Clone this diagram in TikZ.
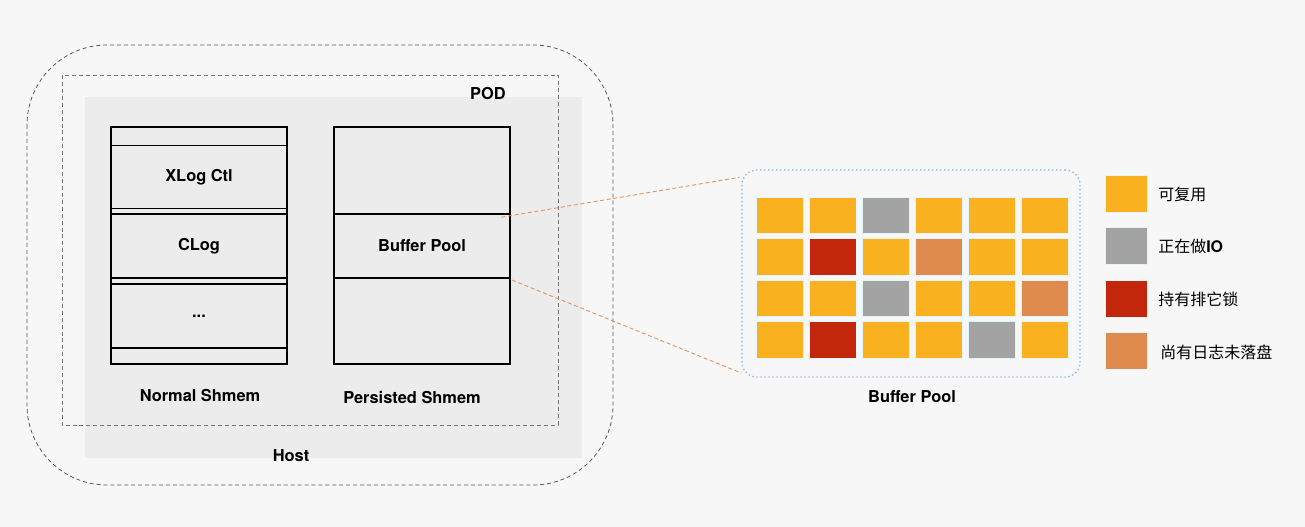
\documentclass[tikz,border=0pt]{standalone}
\usepackage{fontspec}
\setmainfont{TeX Gyre Heros}
\newfontfamily\cjk{Noto Sans CJK SC}
\usetikzlibrary{calc}
\definecolor{bgc}{HTML}{F7F7F7}
\definecolor{hostfill}{HTML}{ECECEC}
\definecolor{cy}{HTML}{F9B11F}
\definecolor{cg}{HTML}{A3A3A3}
\definecolor{cr}{HTML}{C2260B}
\definecolor{co}{HTML}{E08B4E}
\definecolor{dashc}{HTML}{E8955A}
\definecolor{blued}{HTML}{8DB6E6}
\begin{document}
\begin{tikzpicture}[x=0.75pt,y=-0.75pt,
  lbl/.style={font=\fontsize{12.3}{14}\selectfont\bfseries, inner sep=0pt},
  memcol/.style={draw=black, line width=1.2pt, minimum width=132pt, minimum height=177.75pt, inner sep=0pt},
  memblk/.style={draw=black, line width=1.2pt, minimum width=132pt, inner sep=0pt, font=\fontsize{12.3}{14}\selectfont\bfseries},
  cell/.style={minimum width=35.6pt, minimum height=27.4pt, inner sep=0pt, draw=white!60!cyan!30, line width=0.3pt},
  legsq/.style={minimum width=31.5pt, minimum height=27.75pt, inner sep=0pt, draw=white!60!cyan!30, line width=0.3pt},
  leglbl/.style={anchor=west, inner sep=0pt, font=\fontsize{12}{14}\selectfont\cjk},
  zoomline/.style={draw=dashc, line width=0.7pt, dash pattern=on 3pt off 2pt}
]
% background
\fill[bgc] (0,0) rectangle (1305,527);
% host
\fill[hostfill] (85,97) rectangle (582,458);
\draw[draw=black!65, line width=0.6pt, dash pattern=on 3pt off 2.2pt, rounded corners=60pt] (27,45) rectangle (613,485);
% pod
\draw[draw=black!55, line width=0.6pt, dash pattern=on 3pt off 2.2pt] (62,75) rectangle (558,425);
\node[lbl] (pod) at (488,94) {POD};
\node[lbl] (host) at (291,456) {Host};

% normal shmem column
\node[memcol] (ncol) at (199,245.5) {};
\node[memblk, minimum height=47.25pt] (xlog) at (199,177) {XLog Ctl};
\node[memblk, minimum height=48pt] (clog) at (199,246) {CLog};
\node[memblk, minimum height=48pt] (dots) at (199,316) {...};
\node[lbl] (nlbl) at (200,396) {Normal Shmem};

% persisted shmem column
\node[memcol] (pcol) at (422,245.5) {};
\node[memblk, minimum height=48pt] (bp) at (422,246) {Buffer Pool};
\node[lbl] (plbl) at (412,397) {Persisted Shmem};

% buffer pool detail
\node[draw=blued, line width=1pt, dotted, rounded corners=11pt, minimum width=253.5pt, minimum height=155.25pt, inner sep=0pt] (pool) at (911,273.5) {};
\node[lbl] (poollbl) at (912,397) {Buffer Pool};

\foreach \row/\ycen/\cols in {1/215/{cy,cy,cg,cy,cy,cy}, 2/256.5/{cy,cr,cy,co,cy,cy}, 3/298/{cy,cy,cg,cy,cy,co}, 4/339.5/{cy,cr,cy,cy,cg,cy}}{
  \foreach \c [count=\i] in \cols {
    \node[cell, fill=\c] (c-\row-\i) at ({779.75+53*(\i-1)},\ycen) {};
  }
}

% zoom connectors
\coordinate (zt) at ($(pool.north west)+(-1.5pt,-6pt)$);
\coordinate (zb) at ($(pool.south west)+(0pt,3.5pt)$);
\draw[zoomline] ($(bp.north east)+(-7pt,-3pt)$) -- (zt);
\draw[zoomline] ($(bp.south east)+(1pt,-1pt)$) -- (zb);

% legend
\node[legsq, fill=cy] (l1) at (1126,193.5) {};
\node[legsq, fill=cg] (l2) at (1126,246) {};
\node[legsq, fill=cr] (l3) at (1126,299) {};
\node[legsq, fill=co] (l4) at (1126,350.5) {};
\node[leglbl] (t1) at (1158,194) {可复用};
\node[leglbl] (t2) at (1158,246) {正在做{\rmfamily\bfseries IO}};
\node[leglbl] (t3) at (1158,299) {持有排它锁};
\node[leglbl] (t4) at (1160,352) {尚有日志未落盘};
\end{tikzpicture}
\end{document}
